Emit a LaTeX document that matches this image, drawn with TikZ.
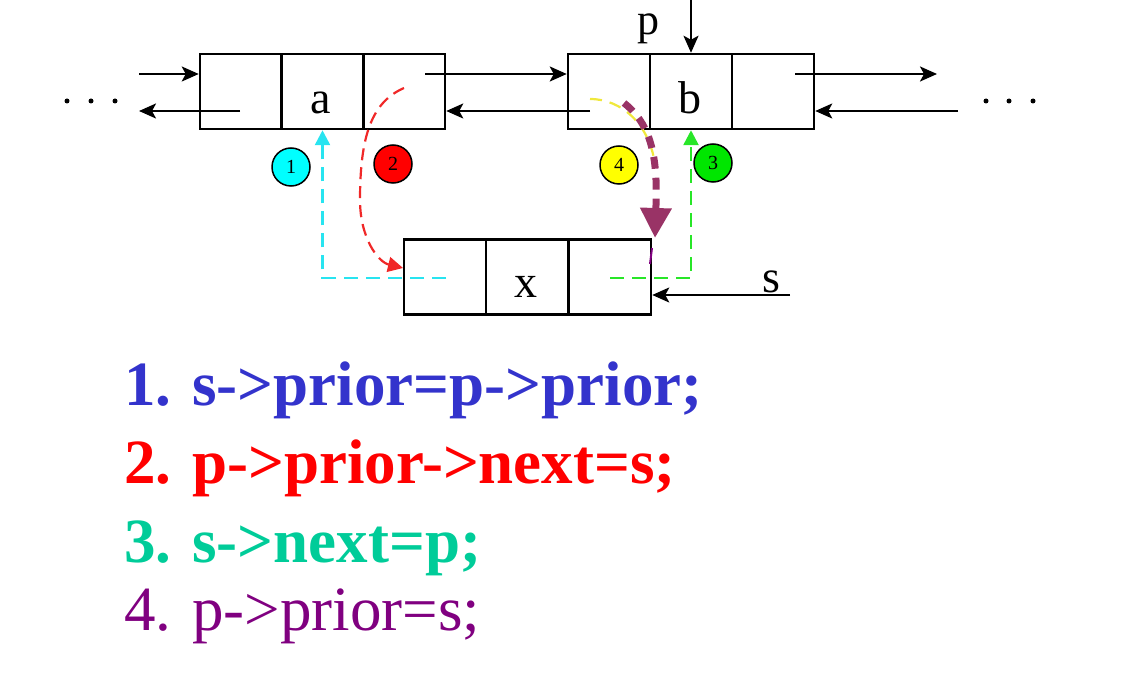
\documentclass[tikz,border=0pt]{standalone}
\usepackage{fontspec}
\setmainfont{Liberation Serif}
\usetikzlibrary{arrows.meta}
\definecolor{lcyan}{RGB}{40,228,240}
\definecolor{lred}{RGB}{240,40,40}
\definecolor{lgreen}{RGB}{40,230,40}
\definecolor{lyellow}{RGB}{240,232,60}
\definecolor{lpurple}{RGB}{153,51,102}
\definecolor{tblue}{RGB}{51,51,204}
\definecolor{tred}{RGB}{255,0,0}
\definecolor{tteal}{RGB}{0,204,153}
\definecolor{tpurple}{RGB}{128,0,128}
\definecolor{fcyan}{RGB}{0,255,255}
\definecolor{fred}{RGB}{255,0,0}
\definecolor{fgreen}{RGB}{0,230,0}
\definecolor{fyellow}{RGB}{255,255,0}
\begin{document}
\begin{tikzpicture}[x=1pt,y=-1pt,
  cell/.style={draw,line width=2.5pt,minimum width=82pt,minimum height=75pt,inner sep=0pt},
  lbl/.style={font=\fontsize{46}{46}\selectfont,anchor=base,inner sep=0pt},
  link/.style={line width=2.3pt,-{Stealth[length=17pt,width=15pt,inset=4pt]}},
  dlink/.style={line width=2.6pt,dash pattern=on 14pt off 8pt,-{Triangle[length=15pt,width=15pt]}},
  num/.style={circle,draw,line width=1.5pt,minimum width=38pt,minimum height=35pt,inner sep=0pt,font=\fontsize{20}{20}\selectfont},
  dot/.style={circle,fill,inner sep=0pt,minimum size=5pt},
  code/.style={anchor=base west,inner sep=0pt,font=\fontsize{63}{63}\selectfont}]
\useasboundingbox (0,0) rectangle (1123,684);
% boxes
\node[cell] (a1) at (241,91.5) {};
\node[cell] (a2) at (322.5,91.5) {};
\node[cell] (a3) at (404,91.5) {};
\node[cell] (b1) at (609,91.5) {};
\node[cell] (b2) at (691,91.5) {};
\node[cell] (b3) at (773,91.5) {};
\node[cell] (x1) at (445,277) {};
\node[cell] (x2) at (527,277) {};
\node[cell] (x3) at (610,277) {};
\node[lbl] (la) at (321,114) {a};
\node[lbl] (lb) at (690,114) {b};
\node[lbl] (lx) at (526,298) {x};
\node[lbl,text height=22pt,font=\fontsize{44}{44}\selectfont] (lp) at (648,35) {p};
\node[lbl] (ls) at (771,292) {s};
% dots
\node[dot] (d1) at (67,101) {};
\node[dot] (d2) at (91,101) {};
\node[dot] (d3) at (115,101) {};
\node[dot] (d4) at (986,101) {};
\node[dot] (d5) at (1009,101) {};
\node[dot] (d6) at (1033,101) {};
% black links
\coordinate (inL) at (139,74);
\draw[link] (inL) -- (inL -| a1.west);
\coordinate (aprior) at (240,111);
\coordinate (outL) at (139,111);
\draw[link] (aprior) -- (outL);
\coordinate (anext) at (425,74);
\draw[link] (anext) -- (anext -| b1.west);
\coordinate (bprior) at (590,111);
\draw[link] (bprior) -- (bprior -| a3.east);
\coordinate (bnext) at (795,74);
\coordinate (outR) at (937,74);
\draw[link] (bnext) -- (outR);
\coordinate (inR) at (958,111);
\draw[link] (inR) -- (inR -| b3.east);
\coordinate (ptop) at (691,0);
\draw[link] (ptop) -- (b2.north);
\coordinate (sstart) at (790,295);
\draw[link] (sstart) -- (sstart -| x3.east);
% coloured steps
\coordinate (xprior) at (446,278);
\draw[dlink,lcyan] (xprior) -- (xprior -| a2.south) -- (a2.south);
\coordinate (xnext) at (610,278);
\draw[dlink,lgreen] (xnext) -- (xnext -| b2.south) -- (b2.south);
\coordinate (rstart) at (404,88);
\coordinate (rend) at (403,268);
\draw[dlink,lred,line width=2.2pt,dash pattern=on 12pt off 7pt] (rstart) .. controls (372,102) and (360,135) .. (360,200) .. controls (360,238) and (378,262) .. (rend);
\coordinate (ystart) at (590,99);
\coordinate (yend) at (655,165);
\draw[lyellow,line width=2.2pt,dash pattern=on 12pt off 8pt] (ystart) .. controls (622,99) and (650,125) .. (yend);
\coordinate (pstart) at (624,103);
\coordinate (pend) at (655,238);
\draw[lpurple,line width=7pt,dash pattern=on 12pt off 9pt,-{Triangle[length=30pt,width=30pt]}] (pstart) .. controls (648,122) and (658,150) .. (656,205) -- (pend);
\coordinate (pm1) at (652,248);
\coordinate (pm2) at (650,264);
\draw[tpurple,line width=2pt] (pm1) -- (pm2);
% numbered circles
\node[num,fill=fcyan] (n1) at (291,167) {1};
\node[num,fill=fred] (n2) at (393,164) {2};
\node[num,fill=fgreen] (n3) at (713,163) {3};
\node[num,fill=fyellow] (n4) at (619,165) {4};
% code lines
\node[code,text=tblue,font=\fontsize{63}{63}\selectfont\bfseries] (c1) at (124,405) {1. s->prior=p->prior;};
\node[code,text=tred,font=\fontsize{63}{63}\selectfont\bfseries] (c2) at (124,483) {2. p->prior->next=s;};
\node[code,text=tteal,font=\fontsize{63}{63}\selectfont\bfseries] (c3) at (124,562) {3. s->next=p;};
\node[code,text=tpurple] (c4) at (124,630) {4. p->prior=s;};
\end{tikzpicture}
\end{document}
